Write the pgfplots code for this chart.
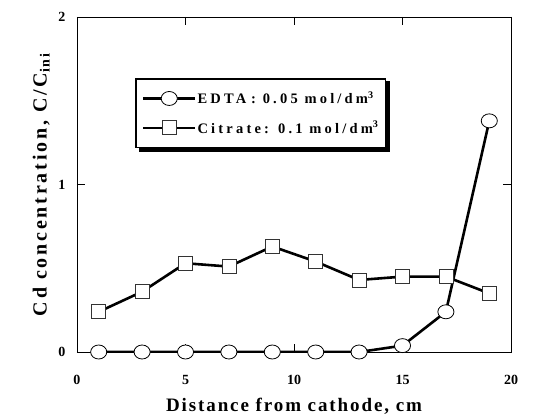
\documentclass[border=0pt]{standalone}
\usepackage{fontspec}
\setmainfont{Liberation Serif}
\newfontfamily\spacedbf[LetterSpace=10]{Liberation Serif}
\newfontfamily\ylabfont[LetterSpace=14]{Liberation Serif}
\newfontfamily\legfont[LetterSpace=22]{Liberation Serif}
\usepackage{pgfplots}
\pgfplotsset{compat=1.18}
\usetikzlibrary{backgrounds}

% Cd concentration profiles along the cell
\pgfplotstableread{
x   y
1   0
3   0
5   0
7   0
9   0
11  0
13  0
15  0.038
17  0.24
19  1.38
}\edta
\pgfplotstableread{
x   y
1   0.24
3   0.36
5   0.53
7   0.51
9   0.63
11  0.54
13  0.43
15  0.45
17  0.45
19  0.35
}\citrate

\begin{document}
\begin{tikzpicture}
\begin{axis}[
  name=ax,
  scale only axis,
  width=434bp, height=335bp,
  xmin=0, xmax=20, ymin=0, ymax=2,
  xtick={0,5,10,15,20},
  ytick={0,1,2},
  tick align=inside,
  major tick length=8bp,
  tick style={black, line width=0.8bp},
  axis line style={line width=0.9bp},
  /pgf/number format/assume math mode=true,
  ticklabel style={font=\fontsize{14bp}{16bp}\selectfont\bfseries},
  xticklabel style={yshift=-20bp},
  yticklabel style={xshift=-8bp},
  xlabel={\spacedbf\bfseries Distance from cathode, cm},
  xlabel style={font=\fontsize{19bp}{21bp}\selectfont, yshift=-6bp},
  ylabel={\ylabfont\bfseries Cd concentration, C/C\textsubscript{ini}},
  ylabel style={font=\fontsize{20bp}{22bp}\selectfont, yshift=2bp},
  legend cell align=left,
  legend style={
    name=lgd,
    at={(0.134,0.818)}, anchor=north west,
    draw=black, line width=1.6bp,
    fill=white,
    font=\fontsize{14.5bp}{16bp}\selectfont\legfont\bfseries,
    row sep=12bp,
    inner xsep=6bp, inner ysep=11bp,
    nodes={inner xsep=1bp},
  },
  % legend sample: short line with the marker in its middle
  legend image code/.code={
    \draw[mark repeat=2, mark phase=2, #1]
      plot coordinates {(0bp,0bp) (26bp,0bp) (52bp,0bp)};
  },
]
\addplot[black, line width=2.6bp, mark=*,
  mark options={fill=white, line width=0.8bp, xscale=1.15, mark size=7bp}]
  table[x=x, y=y] {\edta};
\addlegendentry{EDTA\,\,: 0.05 mol/dm\textsuperscript{3}}
\addplot[black, line width=2.6bp, mark=square*,
  mark options={fill=white, draw=black!80, line width=0.8bp, mark size=7bp}]
  table[x=x, y=y] {\citrate};
\addlegendentry{Citrate: 0.1 mol/dm\textsuperscript{3}}
\end{axis}
% solid drop shadow behind the legend frame
\begin{pgfonlayer}{background}
  \fill[black] ([shift={(3.5bp,-3.5bp)}]lgd.south west)
    rectangle ([shift={(3.5bp,-3.5bp)}]lgd.north east);
\end{pgfonlayer}
\pgfresetboundingbox
\path[use as bounding box]
  ([shift={(-77bp,-64bp)}]ax.south west) rectangle
  ([shift={(49bp,17bp)}]ax.north east);
\end{tikzpicture}
\end{document}
